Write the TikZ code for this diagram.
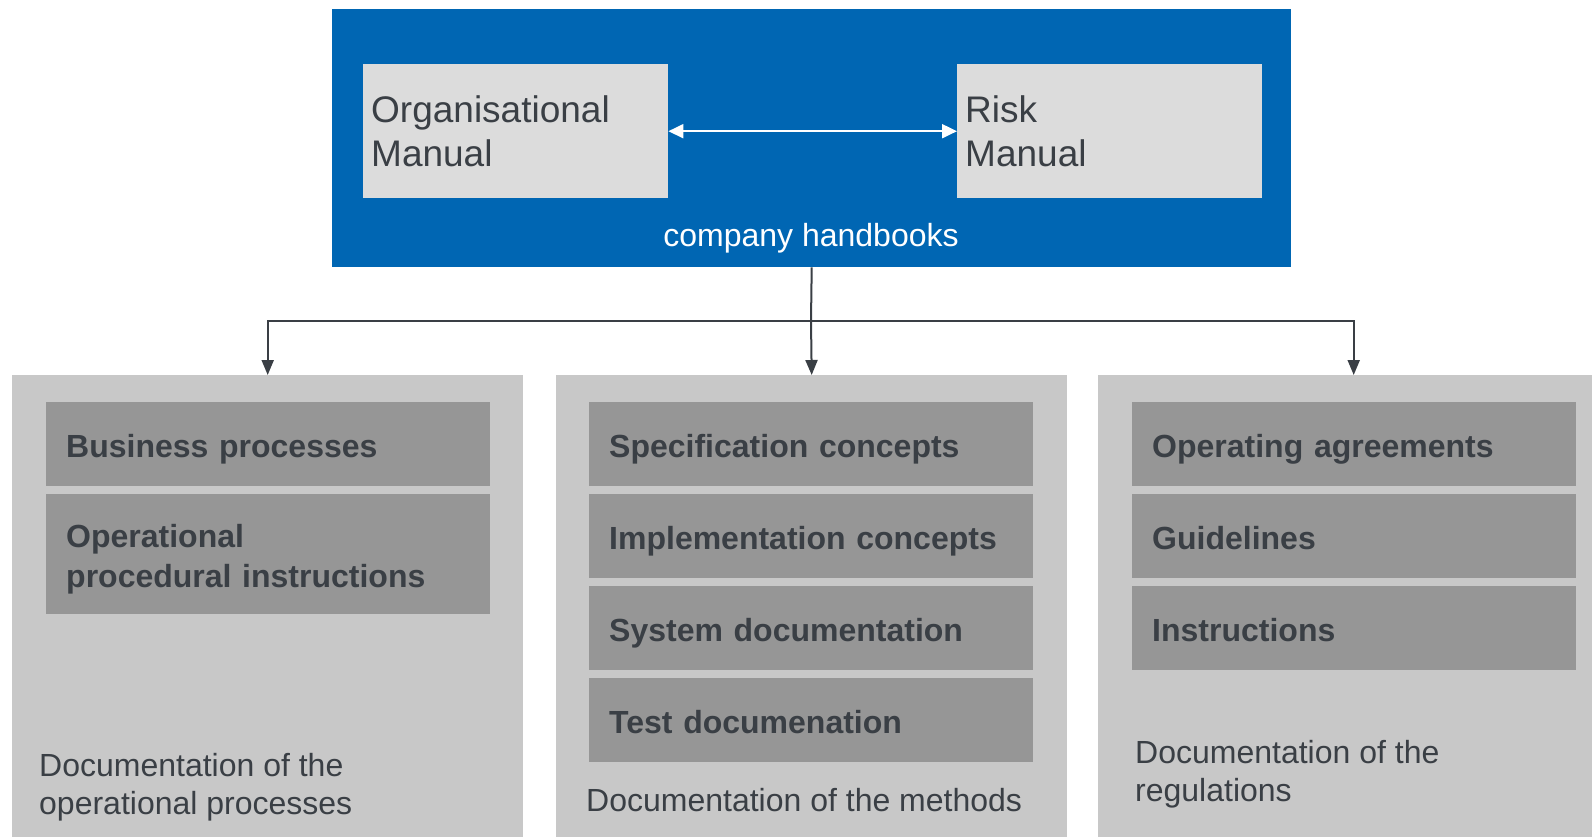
\documentclass[tikz,border=0pt]{standalone}
\usepackage{fontspec}
\setmainfont{Liberation Sans}
\usetikzlibrary{arrows.meta}

\definecolor{hbblue}{HTML}{0066B3}
\definecolor{manualgrey}{HTML}{DCDCDC}
\definecolor{panelgrey}{HTML}{C8C8C8}
\definecolor{docgrey}{HTML}{969696}
\definecolor{inkgrey}{HTML}{3A3F45}

\begin{document}
\begin{tikzpicture}[x=1pt,y=-1pt,
		manualbox/.style={anchor=north west,fill=manualgrey,text=inkgrey,minimum width=305pt,minimum height=134pt,text width=289pt,inner xsep=8pt,inner ysep=0pt,align=left,font=\fontsize{37}{44.4}\selectfont},
		panelbox/.style={anchor=north west,fill=panelgrey,minimum width=511pt,minimum height=470pt,inner sep=0pt},
		docbox/.style={anchor=north west,fill=docgrey,text=inkgrey,minimum width=444pt,minimum height=84pt,text width=404pt,text height=30pt,text depth=4pt,inner xsep=20pt,inner ysep=0pt,align=left,font=\fontsize{32}{40}\selectfont\bfseries},
		doccaption/.style={anchor=north west,text=inkgrey,inner sep=0pt,align=left,font=\fontsize{32}{38.5}\selectfont},
		conn/.style={line width=2pt,draw=inkgrey}]
			\path[use as bounding box,clip] (0,0) rectangle (1592,836);
			
			% handbooks on top
			\node[fill=hbblue,anchor=north west,minimum width=959pt,minimum height=258pt,inner sep=0pt] (handbooks) at (332,9) {};
			\node[manualbox] (orgman) at (363,64) {Organisational\\Manual};
			\node[manualbox] (riskman) at (957,64) {Risk\\Manual};
			\node[anchor=base,text=white,inner sep=0pt,font=\fontsize{32}{38}\selectfont] (hblabel) at (811,246) {company handbooks};
			\draw[white,line width=2pt,{Triangle[width=14pt,length=15pt]}-{Triangle[width=14pt,length=15pt]}] (orgman) -- (riskman);
			
			% the three documentation columns
			\node[panelbox] (ops) at (12,375) {};
			\node[panelbox] (meth) at (556,375) {};
			\node[panelbox] (regs) at (1098,375) {};
			
			\coordinate (split) at (811,321);
			\draw[conn] (handbooks.south) -- (split);
			\draw[conn,-{Triangle[width=12pt,length=15pt]}] (split) -| (ops.north);
			\draw[conn,-{Triangle[width=12pt,length=15pt]}] (split) -- (meth.north);
			\draw[conn,-{Triangle[width=12pt,length=15pt]}] (split) -| (regs.north);
			
			\node[docbox] (bp) at (46,402) {Business processes};
			\node[docbox,minimum height=120pt,text depth=44pt] (opi) at (46,494) {Operational\\procedural instructions};
			\node[doccaption] (opscap) at (39,753) {Documentation of the\\operational processes};
			
			\node[docbox] (spec) at (589,402) {Specification concepts};
			\node[docbox] (impl) at (589,494) {Implementation concepts};
			\node[docbox] (sysdoc) at (589,586) {System documentation};
			\node[docbox] (testdoc) at (589,678) {Test documenation};
			\node[doccaption] (methcap) at (586,788) {Documentation of the methods};
			
			\node[docbox] (opag) at (1132,402) {Operating agreements};
			\node[docbox] (guide) at (1132,494) {Guidelines};
			\node[docbox] (instr) at (1132,586) {Instructions};
			\node[doccaption] (regscap) at (1135,740) {Documentation of the\\regulations};
			%\draw[conn] (opag) -- (guide);
\end{tikzpicture}
\end{document}
